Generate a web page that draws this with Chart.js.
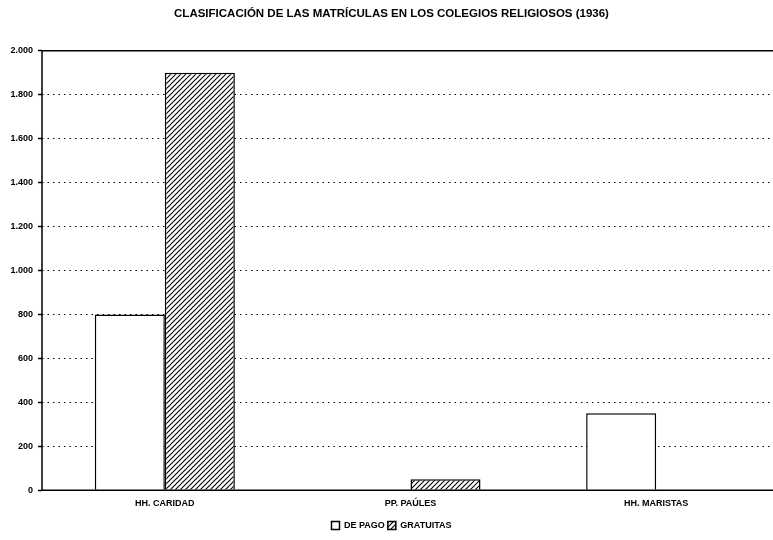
<!DOCTYPE html>
<html>
<head>
<meta charset="utf-8">
<script src="https://cdn.jsdelivr.net/npm/chart.js@4"></script>
<style>
html,body{margin:0;padding:0;background:#fff;overflow:hidden;}
#wrap{width:773px;height:540px;overflow:hidden;}
#c{display:block;}
</style>
</head>
<body>
<div id="wrap"><div style="width:790px;height:540px;"><canvas id="c" width="790" height="540"></canvas></div></div>
<script>
const categories = ["HH. CARIDAD", "PP. PAÚLES", "HH. MARISTAS"];
const dePago = [800, 0, 350];
const gratuitas = [1900, 50, 0];
const seriesNames = ["DE PAGO", "GRATUITAS"];
const titleText = "CLASIFICACIÓN DE LAS MATRÍCULAS EN LOS COLEGIOS RELIGIOSOS (1936)";

function makeHatch(){
  const s = 5;
  const p = document.createElement('canvas');
  p.width = s; p.height = s;
  const g = p.getContext('2d');
  g.fillStyle = '#fff'; g.fillRect(0,0,s,s);
  g.strokeStyle = '#000'; g.lineWidth = 1.1;
  g.beginPath();
  g.moveTo(-1, s+1); g.lineTo(s+1, -1);
  g.moveTo(-1, 1); g.lineTo(1, -1);
  g.moveTo(s-1, s+1); g.lineTo(s+1, s-1);
  g.stroke();
  return g.createPattern(p, 'repeat');
}
const hatch = makeHatch();
const FONT = "'Liberation Sans', Arial, sans-serif";

const frameLines = {
  id: 'frameLines',
  afterDatasetsDraw(chart) {
    const {ctx, chartArea: a} = chart;
    ctx.save();
    ctx.setLineDash([]);
    ctx.strokeStyle = '#000';
    ctx.lineWidth = 1.5;
    ctx.beginPath();
    ctx.moveTo(a.left, a.top); ctx.lineTo(a.right + 20, a.top);
    ctx.moveTo(a.left, a.top); ctx.lineTo(a.left, a.bottom);
    ctx.moveTo(a.left, a.bottom); ctx.lineTo(a.right + 20, a.bottom);
    ctx.stroke();
    ctx.restore();
  }
};

new Chart(document.getElementById('c'), {
  type: 'bar',
  data: {
    labels: categories,
    datasets: [
      {label: seriesNames[0], data: dePago, backgroundColor: '#fff', borderColor: '#000', borderWidth: 1.5},
      {label: seriesNames[1], data: gratuitas, backgroundColor: hatch, borderColor: '#000', borderWidth: 1.5}
    ]
  },
  plugins: [frameLines],
  options: {
    responsive: false,
    animation: false,
    devicePixelRatio: 1,
    layout: {padding: {left: 4, right: 11, top: 4, bottom: 0}},
    datasets: {bar: {categoryPercentage: 0.57, barPercentage: 1.0}},
    plugins: {
      title: {display: true, text: titleText, color: '#000',
        font: {family: FONT, size: 11.5, weight: 'bold'}, padding: {top: 3, bottom: 30}},
      legend: {position: 'bottom', labels: {color: '#000', boxWidth: 8, boxHeight: 8, padding: 3,
        font: {family: FONT, size: 9, weight: 'bold'}}},
      tooltip: {enabled: false}
    },
    scales: {
      x: {
        grid: {display: false},
        border: {display: false},
        afterFit: (s) => { s.height += 9; },
        ticks: {color: '#000', padding: 0, font: {family: FONT, size: 9, weight: 'bold'}, maxRotation: 0}
      },
      y: {
        min: 0, max: 2000,
        afterFit: (s) => { s.width = 38; },
        grid: {color: '#000', lineWidth: 1, tickLength: 4, tickBorderDash: [], tickWidth: 1.5},
        border: {display: false, dash: [1.5, 4]},
        ticks: {stepSize: 200, color: '#000', padding: 5,
          font: {family: FONT, size: 9, weight: 'bold'},
          callback: (v) => v.toLocaleString('de-DE')}
      }
    }
  }
});
</script>
</body>
</html>
